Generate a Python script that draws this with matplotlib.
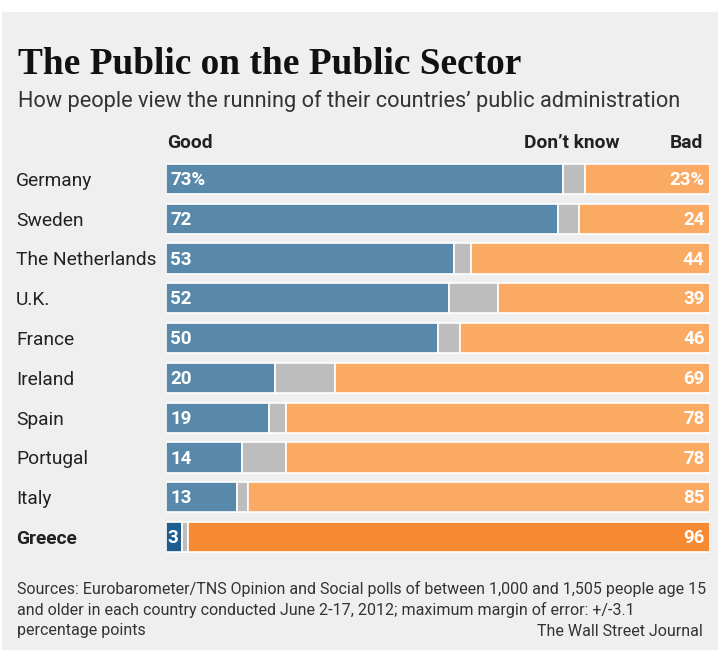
import matplotlib.pyplot as plt
from matplotlib.transforms import blended_transform_factory
from matplotlib.patches import Rectangle

countries = ["Germany", "Sweden", "The Netherlands", "U.K.", "France",
             "Ireland", "Spain", "Portugal", "Italy", "Greece"]
good = [73, 72, 53, 52, 50, 20, 19, 14, 13, 3]
bad = [23, 24, 44, 39, 46, 69, 78, 78, 85, 96]
dont_know = [100 - g - b for g, b in zip(good, bad)]

BG = "#efefef"
BLUE, ORANGE, GREY = "#5889ab", "#fbaa64", "#bdbdbd"
BLUE_HL, ORANGE_HL = "#1d5e8e", "#f58a32"
SANS = ["Roboto", "DejaVu Sans"]

W, H = 722, 661
fig = plt.figure(figsize=(W / 100, H / 100), dpi=100)
fig.patch.set_facecolor("white")
fig.patches.append(Rectangle((2 / W, 1 - 650 / H), 716 / W, 638 / H,
                             transform=fig.transFigure, facecolor=BG,
                             edgecolor="none", zorder=-10))
renderer = fig.canvas.get_renderer()


def fit(t, width_px):
    """Scale a text's font size so it spans width_px pixels."""
    w = t.get_window_extent(renderer).width
    t.set_fontsize(t.get_fontsize() * width_px / w)
    return t.get_fontsize()


# bar area in pixels: x 166..710, rows from y=159 to 557
ax = fig.add_axes([166 / W, 1 - 557 / H, 544 / W, 398 / H])
ax.set_facecolor("none")
ax.set_xlim(0, 100)
ax.set_ylim(len(countries) - 0.5, -0.5)
ax.axis("off")

probe = fig.text(0, 0, "The Netherlands", fontsize=13, family=SANS)
label_size = fit(probe, 140)
probe.remove()

lab = blended_transform_factory(fig.transFigure, ax.transData)
for i, c in enumerate(countries):
    hl = c == "Greece"
    cb = BLUE_HL if hl else BLUE
    co = ORANGE_HL if hl else ORANGE
    kw = dict(height=0.76, edgecolor="white", linewidth=1.2)
    ax.barh(i, good[i], left=0, color=cb, **kw)
    ax.barh(i, dont_know[i], left=good[i], color=GREY, **kw)
    ax.barh(i, bad[i], left=good[i] + dont_know[i], color=co, **kw)

    gtxt = f"{good[i]}%" if i == 0 else str(good[i])
    btxt = f"{bad[i]}%" if i == 0 else str(bad[i])
    ty = i + 0.03
    ax.text(0.8 if good[i] > 5 else 0.2, ty, gtxt, color="white", fontsize=13.5,
            fontweight="bold", family=SANS, va="center", ha="left")
    ax.text(99, ty, btxt, color="white", fontsize=13.5, fontweight="bold",
            family=SANS, va="center", ha="right")
    ax.text(16 / W, i + 0.05, c, transform=lab, fontsize=label_size, family=SANS,
            fontweight="bold" if hl else "normal", color="#222222",
            va="center", ha="left")

# column headers
for x, txt, ha in [(167, "Good", "left"), (619, "Don\u2019t know", "right"),
                   (703, "Bad", "right")]:
    fig.text(x / W, 1 - 143.5 / H, txt, fontsize=label_size, fontweight="bold",
             family=SANS, ha=ha, va="center", color="#222222")

title = fig.text(18 / W, 1 - 64 / H, "The Public on the Public Sector",
                 fontsize=26, fontweight="bold", family="Liberation Serif",
                 ha="left", va="center", color="#111111")
fit(title, 504)
sub = fig.text(18 / W, 1 - 101.5 / H,
               "How people view the running of their countries\u2019 public administration",
               fontsize=15, family=SANS, ha="left", va="center", color="#333333")
fit(sub, 665)

notes = ["Sources: Eurobarometer/TNS Opinion and Social polls of between 1,000 and 1,505 people age 15",
         "and older in each country conducted June 2-17, 2012; maximum margin of error: +/-3.1",
         "percentage points"]
first = fig.text(17 / W, 1 - 589 / H, notes[0], fontsize=11, family=SANS,
                 ha="left", va="center", color="#333333")
note_size = fit(first, 686)
for k, line in enumerate(notes[1:], start=1):
    fig.text(17 / W, 1 - (589 + 21 * k) / H, line, fontsize=note_size, family=SANS,
             ha="left", va="center", color="#333333")
fig.text(703 / W, 1 - 631 / H, "The Wall Street Journal", fontsize=note_size,
         family=SANS, ha="right", va="center", color="#333333")

fig.savefig("out.png", dpi=100, facecolor=fig.get_facecolor())
